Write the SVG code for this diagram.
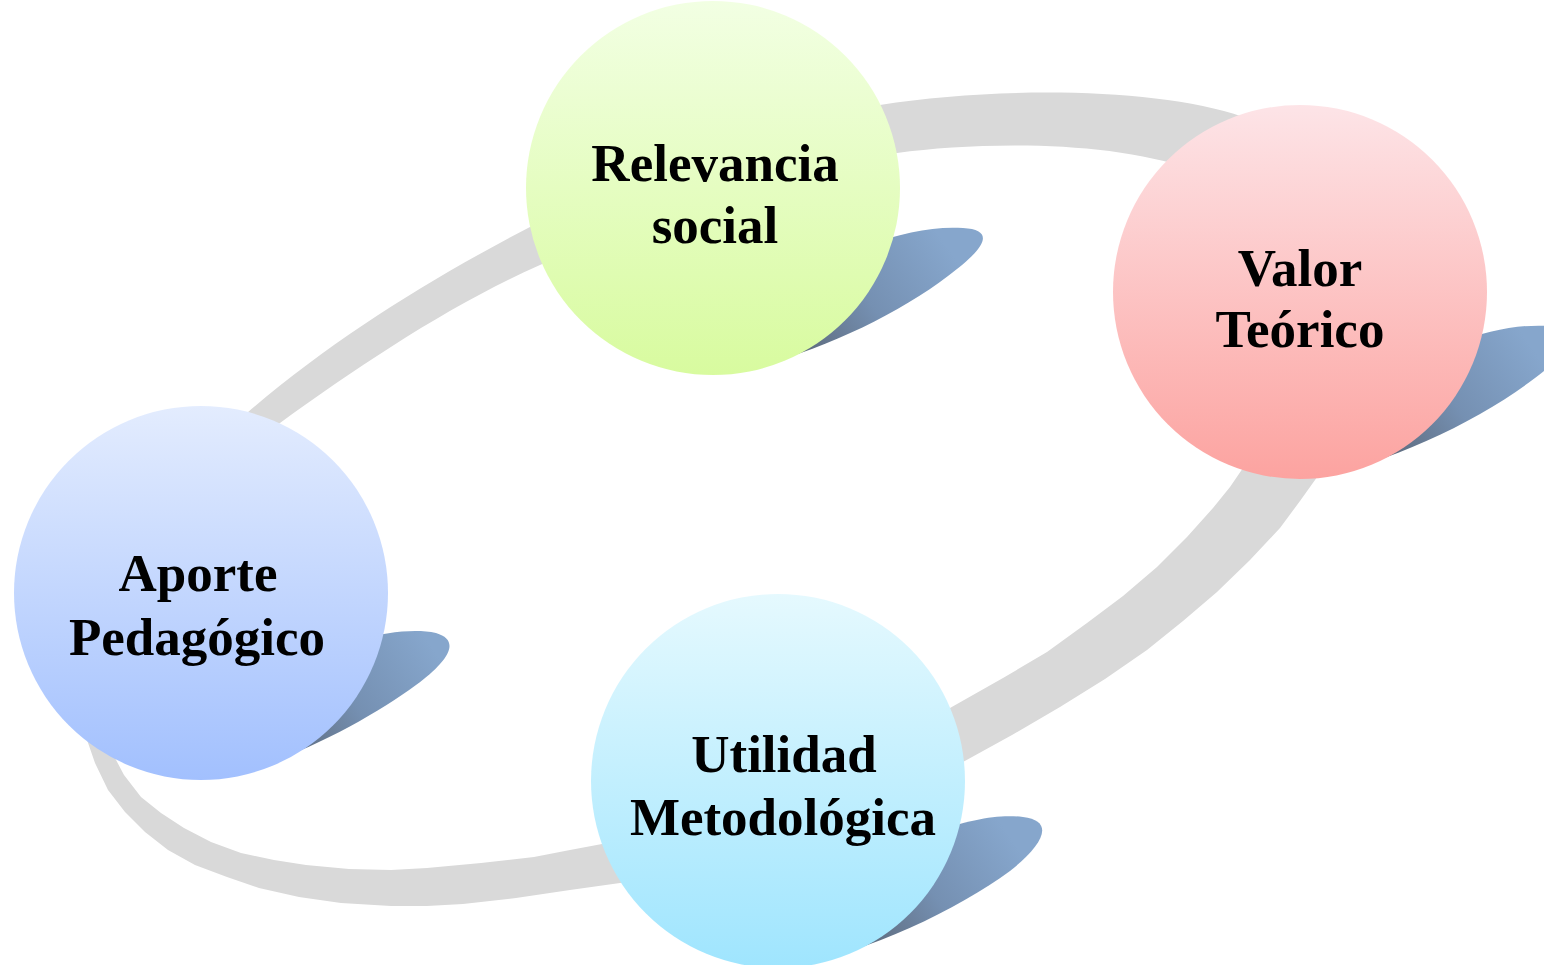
<svg xmlns="http://www.w3.org/2000/svg" width="1544" height="965" viewBox="0 0 1544 965">
  <defs>
    <linearGradient id="gRel" x1="0" y1="0" x2="0" y2="1">
      <stop offset="0" stop-color="#f2ffe3"/>
      <stop offset="1" stop-color="#d8fb9f"/>
    </linearGradient>
    <linearGradient id="gVal" x1="0" y1="0" x2="0" y2="1">
      <stop offset="0" stop-color="#fde4e7"/>
      <stop offset="1" stop-color="#fca3a0"/>
    </linearGradient>
    <linearGradient id="gApo" x1="0" y1="0" x2="0" y2="1">
      <stop offset="0" stop-color="#e3ecfe"/>
      <stop offset="1" stop-color="#a2c0fe"/>
    </linearGradient>
    <linearGradient id="gUti" x1="0" y1="0" x2="0" y2="1">
      <stop offset="0" stop-color="#e5f9fe"/>
      <stop offset="1" stop-color="#9fe5fe"/>
    </linearGradient>
    <linearGradient id="gSh" gradientUnits="userSpaceOnUse" x1="60" y1="180" x2="235" y2="60">
      <stop offset="0" stop-color="#545c68"/>
      <stop offset="0.55" stop-color="#7590b2"/>
      <stop offset="1" stop-color="#86a6cc"/>
    </linearGradient>
    <style>
      .ring { fill: #d9d9d9; fill-rule: evenodd; stroke: none; }
      .shadow { fill: url(#gSh); }
      .lbl { font-family: "Liberation Serif", "Times New Roman", serif; font-weight: bold; font-size: 53px; fill: #000; text-anchor: middle; }
    </style>
  </defs>
  <rect width="1544" height="965" fill="#ffffff"/>

  <g id="connectors">
    <path class="ring" d="M 247 413 C 333 339, 430 279, 530 227 L 620 190 L 760 140 L 880 105 C 1000 86, 1160 88, 1243 117 L 1330 190 L 1360 320 L 1330 440 L 1320 473 L 1300 501 L 1280 528 L 1250 560 L 1217 592 L 1183 621 L 1147 650 L 1105 679 L 1060 707 L 1012 735 L 963 762 L 850 830 L 700 875 L 620 883 L 570 890 L 516 898 L 463 904 L 427 906 L 391 906 L 341 903 L 299 897 L 259 888 L 227 877 L 195 865 L 168 850 L 145 832 L 125 812 L 108 790 L 95 763 L 86 737 L 70 650 L 120 480 Z
       M 280 423 C 362 364, 448 306, 540 265 L 650 215 L 780 170 L 897 153 C 980 142, 1110 140, 1193 170 L 1240 240 L 1260 400 L 1243 468 L 1230 487 L 1213 508 L 1187 537 L 1157 567 L 1123 596 L 1087 623 L 1047 652 L 1003 678 L 950 708 L 800 785 L 602 844 L 570 850 L 534 857 L 481 863 L 427 868 L 391 870 L 349 869 L 306 865 L 274 860 L 241 853 L 211 842 L 184 828 L 161 813 L 141 797 L 124 775 L 115 758 L 110 650 L 170 500 Z"/>
  </g>

  <g id="node-relevancia">
    <path class="shadow" transform="translate(713,188)" d="M 15 184 C 90 172, 180 130, 235 88 C 270 62, 285 42, 250 40 C 220 38, 190 45, 150 58 L 60 140 Z"/>
    <circle cx="713" cy="188" r="187" fill="url(#gRel)"/>
    <text class="lbl"><tspan x="715" y="181">Relevancia</tspan><tspan x="715" y="243">social</tspan></text>
  </g>

  <g id="node-valor">
    <path class="shadow" transform="translate(1300,292)" d="M 15 184 C 90 172, 180 128, 235 86 C 270 60, 285 36, 250 34 C 220 32, 190 38, 150 52 L 60 140 Z"/>
    <circle cx="1300" cy="292" r="187" fill="url(#gVal)"/>
    <text class="lbl"><tspan x="1300" y="286">Valor</tspan><tspan x="1300" y="347">Teórico</tspan></text>
  </g>

  <g id="node-aporte">
    <path class="shadow" transform="translate(201,593)" d="M 15 184 C 90 170, 170 125, 215 92 C 245 70, 262 48, 235 40 C 215 36, 190 38, 150 48 L 60 140 Z"/>
    <circle cx="201" cy="593" r="187" fill="url(#gApo)"/>
    <text class="lbl"><tspan x="198" y="591">Aporte</tspan><tspan x="197" y="655">Pedagógico</tspan></text>
  </g>

  <g id="node-utilidad">
    <path class="shadow" transform="translate(778,781)" d="M 15 184 C 90 172, 180 128, 232 90 C 265 64, 278 40, 245 36 C 220 33, 195 38, 150 52 L 60 140 Z"/>
    <circle cx="778" cy="781" r="187" fill="url(#gUti)"/>
    <text class="lbl"><tspan x="784" y="772">Utilidad</tspan><tspan x="783" y="835">Metodológica</tspan></text>
  </g>
</svg>
